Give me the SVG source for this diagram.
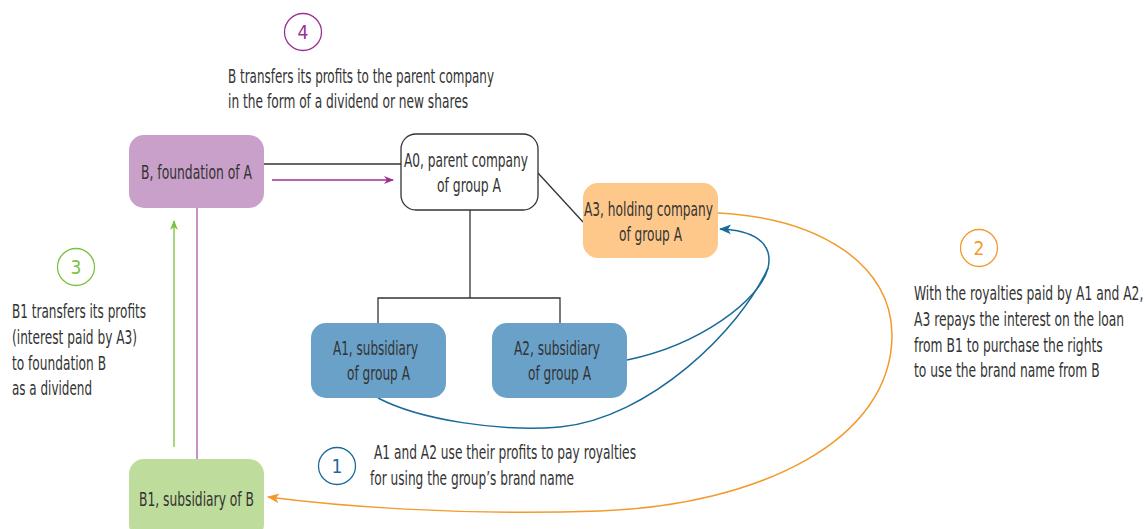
<svg xmlns="http://www.w3.org/2000/svg" width="1145" height="529" viewBox="0 0 1145 529">
<style>
text{font-family:"DejaVu Sans Condensed","Liberation Sans",sans-serif;font-size:19px;fill:#333;}
.c{text-anchor:middle;}
.ln{fill:none;stroke:#333;stroke-width:1.3;}
</style>
<defs>
<marker id="mp" markerWidth="10" markerHeight="10" refX="9" refY="5" orient="auto" markerUnits="userSpaceOnUse"><path d="M0,1 L10,5 L0,9 L3,5 Z" fill="#9b2f94"/></marker>
<marker id="mg" markerWidth="10" markerHeight="10" refX="9" refY="5" orient="auto" markerUnits="userSpaceOnUse"><path d="M0,1 L10,5 L0,9 L3,5 Z" fill="#7cc242"/></marker>
<marker id="mb" markerWidth="12" markerHeight="12" refX="11" refY="6" orient="auto" markerUnits="userSpaceOnUse"><path d="M0,1 L12,6 L0,11 L3,6 Z" fill="#1a6a9a"/></marker>
<marker id="mo" markerWidth="12" markerHeight="12" refX="11" refY="6" orient="auto" markerUnits="userSpaceOnUse"><path d="M0,1 L12,6 L0,11 L3,6 Z" fill="#f39a2c"/></marker>
</defs>
<g id="connectors">
<line class="ln" x1="264" y1="164" x2="401" y2="164"/>
<line x1="272" y1="180" x2="393" y2="180" stroke="#9b2f94" stroke-width="1.3" marker-end="url(#mp)"/>
<line class="ln" x1="538" y1="173" x2="583" y2="222"/>
<path class="ln" d="M470,210 V298 M378,323 V298 H560 V323"/>
<line x1="197" y1="208" x2="197" y2="459" stroke="#b46fb4" stroke-width="1.5"/>
<line x1="174" y1="447" x2="174" y2="221" stroke="#8cc85a" stroke-width="1.5" marker-end="url(#mg)"/>
<path d="M627,360 C700,345 760,300 768,268 C774,242 752,230 720,229" fill="none" stroke="#1a6a9a" stroke-width="1.5" marker-end="url(#mb)"/>
<path d="M378,398 C420,420 500,432 560,427 C650,418 740,330 768,268" fill="none" stroke="#1a6a9a" stroke-width="1.5"/>
<path d="M718,213 C820,218 892,265 892,335 C892,440 760,505 600,511 C450,516 330,505 268,497" fill="none" stroke="#f39a2c" stroke-width="1.5" marker-end="url(#mo)"/>
</g>
<g id="B"><rect x="129" y="135" width="135" height="73" rx="15" fill="#c9a0c9"/><text x="141" y="179" textLength="111" lengthAdjust="spacingAndGlyphs">B, foundation of A</text></g>
<g id="A0"><rect x="401" y="134" width="137" height="76" rx="15" fill="#fff" stroke="#333" stroke-width="1.3"/><text x="404" y="167" textLength="124" lengthAdjust="spacingAndGlyphs">A0, parent company</text><text x="437" y="192" textLength="64" lengthAdjust="spacingAndGlyphs">of group A</text></g>
<g id="A3"><rect x="583" y="183" width="135" height="75" rx="15" fill="#fdc88a"/><text x="584" y="216" textLength="129" lengthAdjust="spacingAndGlyphs">A3, holding company</text><text x="619" y="241" textLength="63" lengthAdjust="spacingAndGlyphs">of group A</text></g>
<g id="A1"><rect x="311" y="323" width="135" height="75" rx="15" fill="#6aa1c8"/><text x="333" y="355" textLength="85" lengthAdjust="spacingAndGlyphs">A1, subsidiary</text><text x="347" y="380" textLength="63" lengthAdjust="spacingAndGlyphs">of group A</text></g>
<g id="A2"><rect x="492" y="323" width="135" height="75" rx="15" fill="#6aa1c8"/><text x="514" y="355" textLength="86" lengthAdjust="spacingAndGlyphs">A2, subsidiary</text><text x="528" y="380" textLength="63" lengthAdjust="spacingAndGlyphs">of group A</text></g>
<g id="B1"><rect x="129" y="459" width="135" height="80" rx="15" fill="#bedd9c"/><text x="139" y="506" textLength="115" lengthAdjust="spacingAndGlyphs">B1, subsidiary of B</text></g>
<g id="step4"><circle cx="303" cy="32" r="18.5" fill="none" stroke="#9b2f94" stroke-width="1.3"/><text class="c" x="303" y="39" style="fill:#9b2f94">4</text>
<text x="228" y="83" textLength="266" lengthAdjust="spacingAndGlyphs">B transfers its profits to the parent company</text><text x="228" y="108" textLength="240" lengthAdjust="spacingAndGlyphs">in the form of a dividend or new shares</text></g>
<g id="step3"><circle cx="76" cy="267" r="18.5" fill="none" stroke="#7cc242" stroke-width="1.3"/><text class="c" x="76" y="274" style="fill:#7cc242">3</text>
<text x="12" y="318" textLength="134" lengthAdjust="spacingAndGlyphs">B1 transfers its profits</text><text x="12" y="344" textLength="125" lengthAdjust="spacingAndGlyphs">(interest paid by A3)</text><text x="12" y="370" textLength="94" lengthAdjust="spacingAndGlyphs">to foundation B</text><text x="12" y="395" textLength="80" lengthAdjust="spacingAndGlyphs">as a dividend</text></g>
<g id="step2"><circle cx="979" cy="248" r="18.5" fill="none" stroke="#f39a2c" stroke-width="1.3"/><text class="c" x="979" y="255" style="fill:#f39a2c">2</text>
<g transform="translate(914,0) scale(0.72,1)"><text x="0" y="300">With the royalties paid by A1 and A2,</text><text x="0" y="326">A3 repays the interest on the loan</text><text x="0" y="352">from B1 to purchase the rights</text><text x="0" y="377">to use the brand name from B</text></g></g>
<g id="step1"><circle cx="337" cy="466" r="18.5" fill="none" stroke="#1a6a9a" stroke-width="1.3"/><text class="c" x="337" y="473" style="fill:#1a6a9a">1</text>
<text x="374" y="459" textLength="262" lengthAdjust="spacingAndGlyphs">A1 and A2 use their profits to pay royalties</text><text x="370" y="485" textLength="204" lengthAdjust="spacingAndGlyphs">for using the group’s brand name</text></g>
</svg>
